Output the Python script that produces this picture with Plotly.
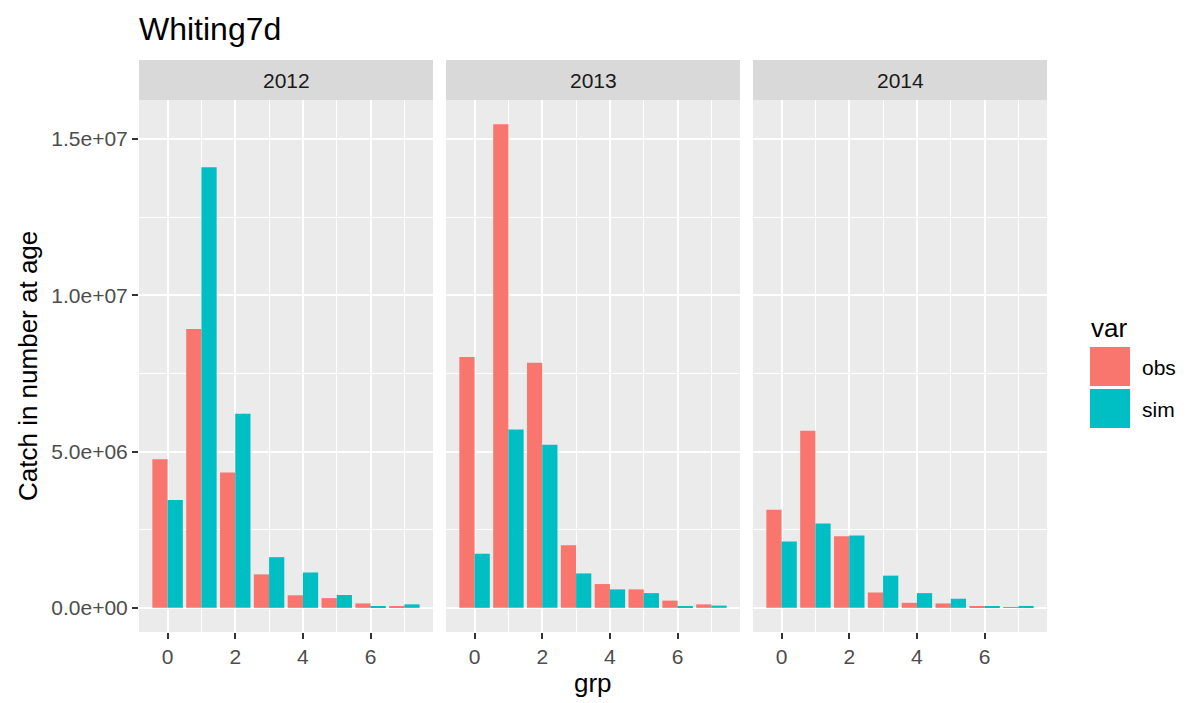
import plotly.graph_objects as go

# Catch-at-age data for whiting, observed vs simulated, by year
years = ["2012", "2013", "2014"]
ages = [0, 1, 2, 3, 4, 5, 6, 7]
obs_2012 = [4.75e6, 8.92e6, 4.33e6, 1.07e6, 0.40e6, 0.31e6, 0.14e6, 0.04e6]
sim_2012 = [3.45e6, 14.09e6, 6.21e6, 1.62e6, 1.13e6, 0.41e6, 0.05e6, 0.11e6]
obs_2013 = [8.02e6, 15.47e6, 7.84e6, 2.00e6, 0.76e6, 0.59e6, 0.23e6, 0.11e6]
sim_2013 = [1.73e6, 5.70e6, 5.22e6, 1.10e6, 0.59e6, 0.47e6, 0.05e6, 0.07e6]
obs_2014 = [3.14e6, 5.66e6, 2.29e6, 0.49e6, 0.16e6, 0.14e6, 0.03e6, 0.02e6]
sim_2014 = [2.12e6, 2.70e6, 2.31e6, 1.03e6, 0.47e6, 0.29e6, 0.04e6, 0.06e6]

series_names = ["obs", "sim"]
series_colors = ["#F8766D", "#00BFC4"]
x_tick_vals = [0, 2, 4, 6]
x_tick_text = ["0", "2", "4", "6"]
y_tick_vals = [0, 5e6, 1e7, 1.5e7]
y_tick_text = ["0.0e+00", "5.0e+06", "1.0e+07", "1.5e+07"]

W, H = 1189, 703
FONT = "Liberation Sans, Arial, sans-serif"
TICK_SIZE = 21
AXIS_TITLE_SIZE = 26
TITLE_SIZE = 32


def px_x(x):
    return x / W


def px_y(y):
    return 1 - y / H


panel_px = [(139, 433), (446, 740), (753, 1047)]
panel_top, panel_bottom = 100, 632
strip_top = 60

data_by_year = [(obs_2012, sim_2012), (obs_2013, sim_2013), (obs_2014, sim_2014)]
ymax = max(max(o + s) for o, s in data_by_year)
y_range = [-0.05 * ymax, 1.05 * ymax]
x_range = [-0.45 - 0.05 * 7.9, 7.45 + 0.05 * 7.9]

fig = go.Figure()
shapes = []
annotations = []

for i, (year, (obs, sim)) in enumerate(zip(years, data_by_year)):
    suffix = "" if i == 0 else str(i + 1)
    xa = "x" + suffix
    ya = "y" + suffix
    for name, vals, color in zip(series_names, (obs, sim), series_colors):
        fig.add_trace(go.Bar(
            x=ages, y=vals, name=name, marker=dict(color=color, line=dict(width=0)),
            xaxis=xa, yaxis=ya, showlegend=False, offsetgroup=name,
        ))
    x0, x1 = panel_px[i]
    fig.update_layout({
        "xaxis" + suffix: dict(
            domain=[px_x(x0), px_x(x1)], range=x_range, anchor=ya,
            tickvals=x_tick_vals, ticktext=x_tick_text,
            showgrid=True, gridcolor="white", gridwidth=2.4,
            minor=dict(dtick=1, tick0=1, showgrid=True, gridcolor="white", gridwidth=1.2),
            ticks="outside", ticklen=6, tickcolor="#333333", tickwidth=2,
            tickfont=dict(family=FONT, size=TICK_SIZE, color="#4D4D4D"),
            zeroline=False, showline=False, fixedrange=True,
        ),
        "yaxis" + suffix: dict(
            domain=[px_y(panel_bottom), px_y(panel_top)], range=y_range, anchor=xa,
            tickvals=y_tick_vals, ticktext=y_tick_text, showticklabels=(i == 0),
            showgrid=True, gridcolor="white", gridwidth=2.4,
            minor=dict(dtick=2.5e6, tick0=2.5e6, showgrid=True, gridcolor="white", gridwidth=1.2),
            ticks="outside" if i == 0 else "", ticklen=6, tickcolor="#333333", tickwidth=2,
            tickfont=dict(family=FONT, size=TICK_SIZE, color="#4D4D4D"),
            zeroline=False, showline=False, fixedrange=True,
        ),
    })
    # Panel background
    shapes.append(dict(type="rect", xref="paper", yref="paper", layer="below",
                       x0=px_x(x0), x1=px_x(x1), y0=px_y(panel_bottom), y1=px_y(panel_top),
                       fillcolor="#EBEBEB", line=dict(width=0)))
    # Facet strip
    shapes.append(dict(type="rect", xref="paper", yref="paper",
                       x0=px_x(x0), x1=px_x(x1), y0=px_y(panel_top), y1=px_y(strip_top),
                       fillcolor="#D9D9D9", line=dict(width=0)))
    annotations.append(dict(text=year, xref="paper", yref="paper",
                            x=px_x((x0 + x1) / 2), y=px_y((strip_top + panel_top) / 2),
                            showarrow=False, xanchor="center", yanchor="middle",
                            font=dict(family=FONT, size=TICK_SIZE, color="#1A1A1A")))

# Titles
annotations.append(dict(text="Whiting7d", xref="paper", yref="paper",
                        x=px_x(137), y=px_y(29), xanchor="left", yanchor="middle",
                        showarrow=False, font=dict(family=FONT, size=TITLE_SIZE, color="black")))
annotations.append(dict(text="grp", xref="paper", yref="paper",
                        x=px_x((139 + 1047) / 2), y=px_y(683), xanchor="center", yanchor="middle",
                        showarrow=False, font=dict(family=FONT, size=AXIS_TITLE_SIZE, color="black")))
annotations.append(dict(text="Catch in number at age", xref="paper", yref="paper",
                        x=px_x(28), y=px_y((panel_top + panel_bottom) / 2), textangle=-90,
                        xanchor="center", yanchor="middle",
                        showarrow=False, font=dict(family=FONT, size=AXIS_TITLE_SIZE, color="black")))

# Legend
annotations.append(dict(text="var", xref="paper", yref="paper",
                        x=px_x(1089), y=px_y(328), xanchor="left", yanchor="middle",
                        showarrow=False, font=dict(family=FONT, size=AXIS_TITLE_SIZE, color="black")))
key_tops = [347, 389]
for name, color, top in zip(series_names, series_colors, key_tops):
    shapes.append(dict(type="rect", xref="paper", yref="paper",
                       x0=px_x(1090), x1=px_x(1130), y0=px_y(top + 39), y1=px_y(top),
                       fillcolor=color, line=dict(width=0)))
    annotations.append(dict(text=name, xref="paper", yref="paper",
                            x=px_x(1140), y=px_y(top + 20), xanchor="left", yanchor="middle",
                            showarrow=False, font=dict(family=FONT, size=TICK_SIZE, color="black")))

fig.update_layout(
    width=W, height=H, margin=dict(l=0, r=0, t=0, b=0),
    paper_bgcolor="white", plot_bgcolor="#EBEBEB",
    barmode="group", bargap=0.1, bargroupgap=0,
    showlegend=False, shapes=shapes, annotations=annotations,
)

fig.write_html("out.html")
